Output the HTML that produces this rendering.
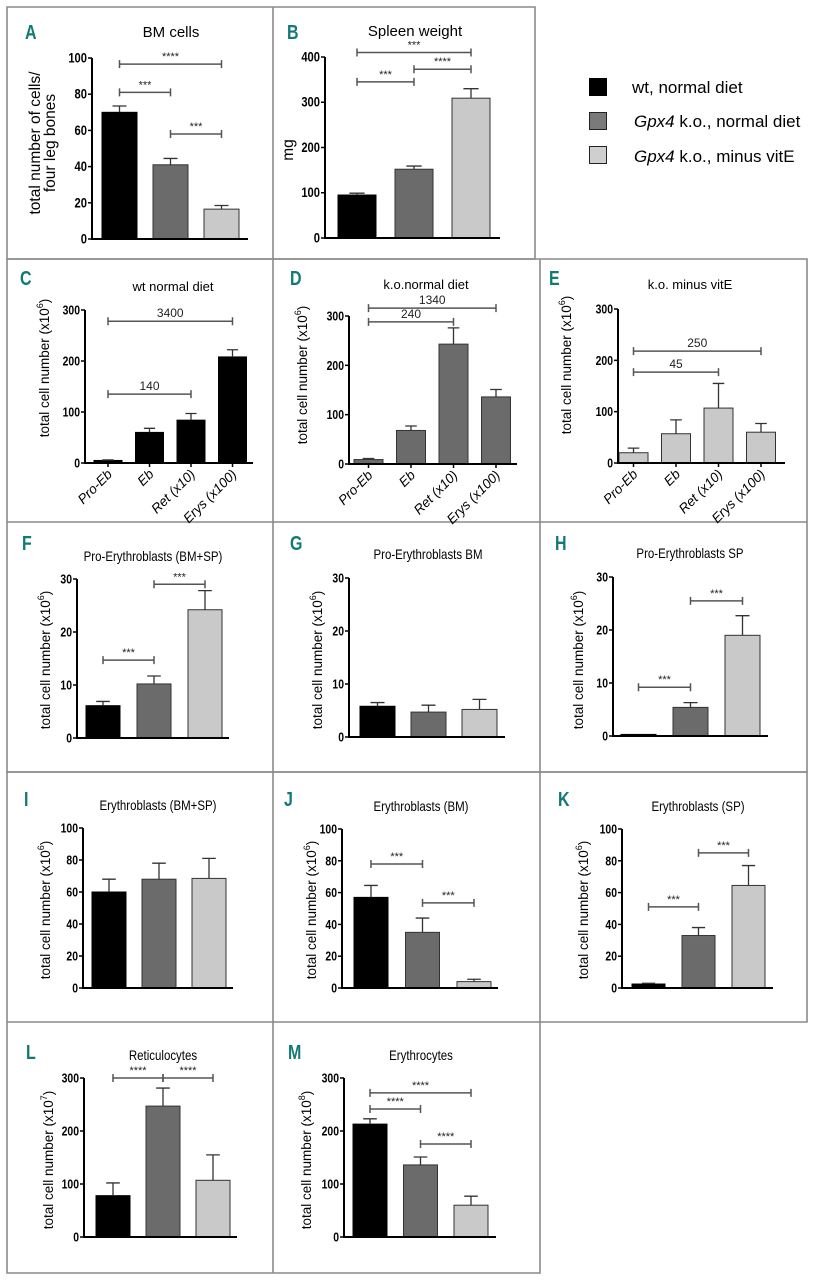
<!DOCTYPE html>
<html><head><meta charset="utf-8"><style>
html,body{margin:0;padding:0;background:#fff;}
svg{display:block;font-family:"Liberation Sans",sans-serif;}
</style></head><body>
<svg id="fig" width="823" height="1280" viewBox="0 0 823 1280" xmlns="http://www.w3.org/2000/svg">
<g id="borders" stroke="#8a8a8a" stroke-width="1.6" fill="none">
<path d="M7 7H535V259H7Z M273 7V259"/>
<path d="M7 259H807V772H7Z M273 259V772 M540 259V772 M7 522H807"/>
<path d="M7 772H807V1022H7Z M273 772V1273 M540 772V1273 M7 1022V1273H540V1022"/>
</g>
<g id="legend">
<rect x="589" y="78" width="18" height="18" fill="#000"/>
<text x="632" y="93" font-size="17">wt, normal diet</text>
<rect x="589.5" y="112.5" width="17" height="17" fill="#7a7a7a" stroke="#222"/>
<text x="634" y="127" font-size="17"><tspan font-style="italic">Gpx4</tspan> k.o., normal diet</text>
<rect x="589.5" y="146.5" width="17" height="17" fill="#cfcfcf" stroke="#222"/>
<text x="634" y="162" font-size="17"><tspan font-style="italic">Gpx4</tspan> k.o., minus vitE</text>
</g>
</svg>
<script>
// ---- data ----
const groupCats = ["wt normal diet","ko normal diet","ko minus vitE"];
const cellCats = ["Pro-Eb","Eb","Ret (x10)","Erys (x100)"];
const aVals=[70,41,16.5], aErr=[73.5,44.5,18.5];
const bVals=[95,152,309], bErr=[99,159,330];
const cVals=[5,60,84,208], cErr=[6,68,97,222];
const dVals=[9,68,243,136], dErr=[11,77,276,151];
const eVals=[20,57,107,60], eErr=[29,84,155,77];
const fVals=[6.1,10.2,24.2], fErr=[6.9,11.7,27.8];
const gVals=[5.8,4.7,5.2], gErr=[6.5,6.0,7.1];
const hVals=[0.3,5.4,19], hErr=[0.3,6.3,22.7];
const iVals=[60,68,68.5], iErr=[68,78,81];
const jVals=[57,35,4], jErr=[64.5,44,5.5];
const kVals=[2.5,33,64.5], kErr=[3,38,77];
const lVals=[78,247,107], lErr=[102,281,155];
const mVals=[213,136,60], mErr=[223,151,77];
const ticks100=[0,20,40,60,80,100], ticks400=[0,100,200,300,400], ticks300=[0,100,200,300], ticks30=[0,10,20,30];
// brackets: [from, to, yValue, label]
const aBr=[[0,2,96.6,"****"],[0,1,81,"***"],[1,2,58,"***"]];
const bBr=[[0,2,410,"***"],[0,1,345,"***"],[1,2,373,"****"]];
const cBr=[[0,3,278,"3400"],[0,2,135,"140"]];
const dBr=[[0,3,316,"1340"],[0,2,288,"240"]];
const eBr=[[0,3,218,"250"],[0,2,177,"45"]];
const fBr=[[0,1,14.7,"***"],[1,2,29,"***"]];
const hBr=[[0,1,9.2,"***"],[1,2,25.5,"***"]];
const jBr=[[0,1,78,"***"],[1,2,53.5,"***"]];
const kBr=[[0,1,51,"***"],[1,2,85,"***"]];
const lBr=[[0,1,300,"****"],[1,2,300,"****"]];
const mBr=[[0,2,272,"****"],[0,1,241.5,"****"],[1,2,175.5,"****"]];

const NS="http://www.w3.org/2000/svg";
const svg=document.getElementById('fig');
function mk(tag,attrs,parent,txt){const e=document.createElementNS(NS,tag);for(const k in attrs)e.setAttribute(k,attrs[k]);if(txt!==undefined)e.textContent=txt;parent.appendChild(e);return e;}
const fills3=["#000","#6b6b6b","#c9c9c9"];

function panel(p){
  const g=mk('g',{},svg);
  
  
  const y=v=>p.y0-(v/p.max)*(p.y0-p.yTop);
  const cx=i=>p.bx0+p.bw/2+i*p.step;
  const L=mk('text',{x:p.lx,y:p.ly,'font-size':20,'font-weight':'bold',fill:'#127a74',transform:`translate(${p.lx} 0) scale(0.8 1) translate(${-p.lx} 0)`},g,p.id);
  
  
  const T=mk('text',{x:p.tx,y:p.ty,'font-size':p.tfs||14,'text-anchor':'middle',transform:p.cond?`translate(${p.tx} 0) scale(0.82 1) translate(${-p.tx} 0)`:''},g,p.title);
  
  
  const yl=p.ylab;
  yl.forEach((s,k)=>{
    const t=mk('text',{x:0,y:0,'font-size':p.ylfs||13.5,'text-anchor':'middle',transform:`translate(${p.ylx+k*15} ${p.yly}) rotate(-90)`},g);
    
    
    if(typeof s==='string'){t.textContent=s;}else{t.textContent=s[0];mk('tspan',{'font-size':9,dy:-6},t,s[1]);mk('tspan',{dy:6},t,s[2]);}
  });
  p.vals.forEach((v,i)=>{
    const x=p.bx0+i*p.step;
    const fill=p.colorAll||fills3[i];
    const r=mk('rect',{x:x,y:y(v),width:p.bw,height:p.y0-y(v),fill:fill,stroke:fill==="#000"?"#000":"#333",'stroke-width':1},g);
    
    
    const e=p.err[i];
    if(e>v){
      const eb=mk('path',{d:`M${cx(i)} ${y(v)}V${y(e)}M${cx(i)-p.bw*0.2} ${y(e)}H${cx(i)+p.bw*0.2}`,stroke:'#333','stroke-width':1.3,fill:'none'},g);
      
      
    }
  });
  const ax=mk('path',{d:`M${p.ax} ${p.yTop}V${p.y0}H${p.axEnd}`,stroke:'#000','stroke-width':2,fill:'none'},g);
  
  
  p.ticks.forEach(t=>{
    mk('line',{x1:p.ax-4,x2:p.ax,y1:y(t),y2:y(t),stroke:'#000','stroke-width':1.5},g);
    const tx=p.ax-5;
    const tl=mk('text',{x:tx,y:y(t)+4.5,'font-size':p.tkfs||14,'font-weight':'bold','text-anchor':'end',transform:`translate(${tx} 0) scale(0.8 1) translate(${-tx} 0)`},g,t);
    
    
  });
  if(p.cats){
    p.cats.forEach((c,i)=>{
      mk('line',{x1:cx(i),x2:cx(i),y1:p.y0,y2:p.y0+4,stroke:'#000','stroke-width':1.5},g);
      const t=mk('text',{x:0,y:0,'font-size':13.5,'font-style':'italic','text-anchor':'end',transform:`translate(${cx(i)+5} ${p.y0+12}) rotate(-45)`},g,c);
      
      
    });
  }
  (p.br||[]).forEach(b=>{
    const x1=cx(b[0]),x2=cx(b[1]),yy=y(b[2]);
    const bp=mk('path',{d:`M${x1} ${yy-4}V${yy+4}M${x1} ${yy}H${x2}M${x2} ${yy-4}V${yy+4}`,stroke:'#555','stroke-width':1.5,fill:'none'},g);
    
    
    const bl=mk('text',{x:(x1+x2)/2,y:yy-4,'font-size':b[3][0]==='*'?11:12,'text-anchor':'middle',fill:'#222'},g,b[3]);
    
    
  });
}
const yl6=["total cell number (x10","6",")"];
panel({id:"A",lx:25,ly:39,title:"BM cells",tx:171,ty:37,tfs:15,ylab:["total number of cells/","four leg bones"],ylfs:15.5,ylx:40,yly:143,vals:aVals,err:aErr,max:100,ticks:ticks100,y0:239,yTop:58,ax:92,axEnd:248,bx0:102,bw:35,step:51,br:aBr});
panel({id:"B",lx:287,ly:39,title:"Spleen weight",tx:415,ty:36,tfs:15,ylab:["mg"],ylfs:15.5,ylx:293,yly:150,vals:bVals,err:bErr,max:400,ticks:ticks400,y0:238,yTop:57,ax:325,axEnd:500,bx0:338,bw:38,step:57,br:bBr});
panel({id:"C",lx:20,ly:285,title:"wt normal diet",tx:173,ty:291,tfs:13,ylab:[yl6],ylx:49,yly:368,vals:cVals,err:cErr,max:300,ticks:ticks300,y0:463,yTop:310,ax:85,axEnd:253,bx0:94,bw:28,step:41.5,br:cBr,cats:cellCats,colorAll:"#000",tkfs:13});
panel({id:"D",lx:290,ly:285,title:"k.o.normal diet",tx:426,ty:289,tfs:13,ylab:[yl6],ylx:307,yly:375,vals:dVals,err:dErr,max:300,ticks:ticks300,y0:464,yTop:316,ax:349,axEnd:517,bx0:354,bw:29,step:42.5,br:dBr,cats:cellCats,colorAll:"#6b6b6b",tkfs:13});
panel({id:"E",lx:549,ly:285,title:"k.o. minus vitE",tx:690,ty:289,tfs:13,ylab:[yl6],ylx:571,yly:365,vals:eVals,err:eErr,max:300,ticks:ticks300,y0:463,yTop:309,ax:618,axEnd:785,bx0:619,bw:29,step:42.5,br:eBr,cats:cellCats,colorAll:"#c9c9c9",tkfs:13});
panel({id:"F",lx:22,ly:550,title:"Pro-Erythroblasts (BM+SP)",tx:153,ty:561,tfs:14,cond:1,ylab:[yl6],ylx:50,yly:660,vals:fVals,err:fErr,max:30,ticks:ticks30,y0:738,yTop:579,ax:77,axEnd:229,bx0:86,bw:34,step:51,br:fBr,tkfs:13});
panel({id:"G",lx:290,ly:550,title:"Pro-Erythroblasts BM",tx:428,ty:559,tfs:14,cond:1,ylab:[yl6],ylx:322,yly:660,vals:gVals,err:gErr,max:30,ticks:ticks30,y0:737,yTop:578,ax:349,axEnd:505,bx0:360,bw:35,step:51,tkfs:13});
panel({id:"H",lx:555,ly:550,title:"Pro-Erythroblasts SP",tx:690,ty:558,tfs:14,cond:1,ylab:[yl6],ylx:583,yly:660,vals:hVals,err:hErr,max:30,ticks:ticks30,y0:736,yTop:577,ax:613,axEnd:768,bx0:621,bw:35,step:52,br:hBr,tkfs:13});
panel({id:"I",lx:24,ly:806,title:"Erythroblasts (BM+SP)",tx:158,ty:810,tfs:14,cond:1,ylab:[yl6],ylx:50,yly:910,vals:iVals,err:iErr,max:100,ticks:ticks100,y0:988,yTop:828,ax:83,axEnd:233,bx0:92,bw:34,step:50,tkfs:13});
panel({id:"J",lx:284,ly:806,title:"Erythroblasts (BM)",tx:421,ty:811,tfs:14,cond:1,ylab:[yl6],ylx:316,yly:910,vals:jVals,err:jErr,max:100,ticks:ticks100,y0:988,yTop:829,ax:342,axEnd:498,bx0:354,bw:34,step:51.5,br:jBr,tkfs:13});
panel({id:"K",lx:558,ly:806,title:"Erythroblasts (SP)",tx:698,ty:811,tfs:14,cond:1,ylab:[yl6],ylx:588,yly:910,vals:kVals,err:kErr,max:100,ticks:ticks100,y0:988,yTop:829,ax:622,axEnd:773,bx0:632,bw:33,step:50,br:kBr,tkfs:13});
panel({id:"L",lx:26,ly:1059,title:"Reticulocytes",tx:163,ty:1060,tfs:14,cond:1,ylab:[["total cell number (x10","7",")"]],ylx:53,yly:1160,vals:lVals,err:lErr,max:300,ticks:ticks300,y0:1237,yTop:1078,ax:84,axEnd:237,bx0:96,bw:34,step:50,br:lBr,tkfs:13});
panel({id:"M",lx:288,ly:1059,title:"Erythrocytes",tx:421,ty:1060,tfs:14,cond:1,ylab:[["total cell number (x10","8",")"]],ylx:311,yly:1160,vals:mVals,err:mErr,max:300,ticks:ticks300,y0:1237,yTop:1078,ax:344,axEnd:496,bx0:353,bw:34,step:50.5,br:mBr,tkfs:13});
</script>
</body></html>
